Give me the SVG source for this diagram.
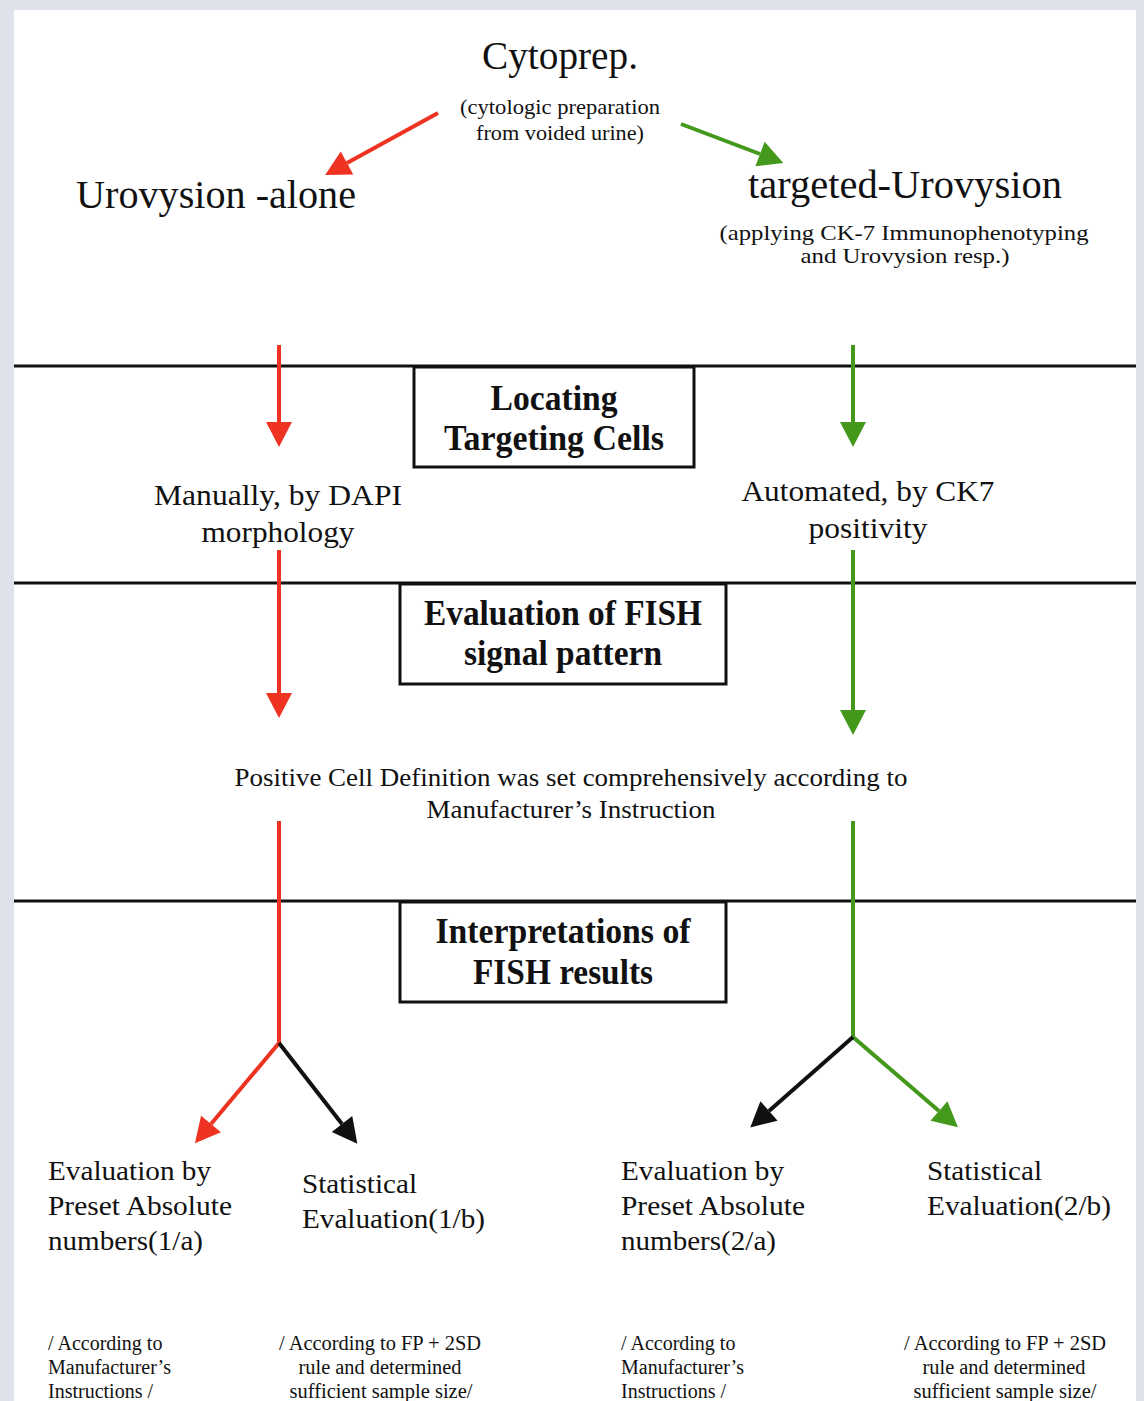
<svg xmlns="http://www.w3.org/2000/svg" width="1144" height="1401" viewBox="0 0 1144 1401">
<defs>
<style>
.t{font-family:"Liberation Serif","Times New Roman",serif;fill:#111}
.b{font-weight:bold}
.sep{stroke:#111;stroke-width:3}
.box{fill:#fff;stroke:#111;stroke-width:3}
.red{stroke:#ee3322;stroke-width:4;fill:none}
.grn{stroke:#44991c;stroke-width:4;fill:none}
.blk{stroke:#111;stroke-width:4;fill:none}
</style>
<marker id="ahR" markerUnits="userSpaceOnUse" markerWidth="26" markerHeight="26" refX="0" refY="13" orient="auto" overflow="visible"><path d="M0,0 L25,13 L0,26 z" fill="#ee3322"/></marker>
<marker id="ahG" markerUnits="userSpaceOnUse" markerWidth="26" markerHeight="26" refX="0" refY="13" orient="auto" overflow="visible"><path d="M0,0 L25,13 L0,26 z" fill="#44991c"/></marker>
<marker id="ahK" markerUnits="userSpaceOnUse" markerWidth="26" markerHeight="26" refX="0" refY="13" orient="auto" overflow="visible"><path d="M0,0 L25,13 L0,26 z" fill="#111"/></marker>
</defs>
<rect x="0" y="0" width="1144" height="1401" fill="#dfe2ea"/>
<rect x="14" y="10" width="1122" height="1391" fill="#fff"/>

<g id="separators">
<line class="sep" x1="14" y1="366" x2="1136" y2="366"/>
<line class="sep" x1="14" y1="583" x2="1136" y2="583"/>
<line class="sep" x1="14" y1="901" x2="1136" y2="901"/>
</g>

<g id="connectors">
<line class="red" x1="438" y1="113" x2="347" y2="163" marker-end="url(#ahR)"/>
<line class="grn" x1="681" y1="124" x2="760" y2="154" marker-end="url(#ahG)"/>
<line class="red" x1="279" y1="345" x2="279" y2="422" marker-end="url(#ahR)"/>
<line class="grn" x1="853" y1="345" x2="853" y2="422" marker-end="url(#ahG)"/>
<line class="red" x1="279" y1="550" x2="279" y2="693" marker-end="url(#ahR)"/>
<line class="grn" x1="853" y1="550" x2="853" y2="710" marker-end="url(#ahG)"/>
<path class="red" d="M279,821 L279,1043 L211,1124" marker-end="url(#ahR)"/>
<line class="blk" x1="279" y1="1043" x2="342" y2="1124" marker-end="url(#ahK)"/>
<path class="grn" d="M853,821 L853,1037 L939,1111" marker-end="url(#ahG)"/>
<line class="blk" x1="853" y1="1037" x2="769" y2="1111" marker-end="url(#ahK)"/>
</g>

<g id="cytoprep">
<text class="t" x="560" y="69" font-size="40" text-anchor="middle" textLength="156" lengthAdjust="spacingAndGlyphs">Cytoprep.</text>
<text class="t" x="560" y="114" font-size="22" text-anchor="middle" textLength="200" lengthAdjust="spacingAndGlyphs">(cytologic preparation</text>
<text class="t" x="560" y="140" font-size="22" text-anchor="middle" textLength="168" lengthAdjust="spacingAndGlyphs">from voided urine)</text>
</g>

<g id="urovysion-alone">
<text class="t" x="76" y="208" font-size="40" textLength="280" lengthAdjust="spacingAndGlyphs">Urovysion -alone</text>
</g>

<g id="targeted-urovysion">
<text class="t" x="748" y="198" font-size="40" textLength="314" lengthAdjust="spacingAndGlyphs">targeted-Urovysion</text>
<text class="t" x="904" y="240" font-size="22" text-anchor="middle" textLength="369" lengthAdjust="spacingAndGlyphs">(applying CK-7 Immunophenotyping</text>
<text class="t" x="905" y="263" font-size="22" text-anchor="middle" textLength="209" lengthAdjust="spacingAndGlyphs">and Urovysion resp.)</text>
</g>

<g id="locating-box">
<rect class="box" x="414" y="367" width="280" height="100"/>
<text class="t b" x="554" y="410" font-size="35" text-anchor="middle" textLength="127" lengthAdjust="spacingAndGlyphs">Locating</text>
<text class="t b" x="554" y="450" font-size="35" text-anchor="middle" textLength="220" lengthAdjust="spacingAndGlyphs">Targeting Cells</text>
</g>

<g id="manually">
<text class="t" x="278" y="505" font-size="29" text-anchor="middle" textLength="248" lengthAdjust="spacingAndGlyphs">Manually, by DAPI</text>
<text class="t" x="278" y="542" font-size="29" text-anchor="middle" textLength="153" lengthAdjust="spacingAndGlyphs">morphology</text>
</g>

<g id="automated">
<text class="t" x="868" y="501" font-size="29" text-anchor="middle" textLength="253" lengthAdjust="spacingAndGlyphs">Automated, by CK7</text>
<text class="t" x="868" y="538" font-size="29" text-anchor="middle" textLength="119" lengthAdjust="spacingAndGlyphs">positivity</text>
</g>

<g id="evaluation-box">
<rect class="box" x="400" y="584" width="326" height="100"/>
<text class="t b" x="563" y="625" font-size="35" text-anchor="middle" textLength="278" lengthAdjust="spacingAndGlyphs">Evaluation of FISH</text>
<text class="t b" x="563" y="665" font-size="35" text-anchor="middle" textLength="198" lengthAdjust="spacingAndGlyphs">signal pattern</text>
</g>

<g id="positive-cell">
<text class="t" x="571" y="786" font-size="25" text-anchor="middle" textLength="673" lengthAdjust="spacingAndGlyphs">Positive Cell Definition was set comprehensively according to</text>
<text class="t" x="571" y="818" font-size="25" text-anchor="middle" textLength="289" lengthAdjust="spacingAndGlyphs">Manufacturer’s Instruction</text>
</g>

<g id="interpretations-box">
<rect class="box" x="400" y="902" width="326" height="100"/>
<text class="t b" x="563" y="943" font-size="35" text-anchor="middle" textLength="255" lengthAdjust="spacingAndGlyphs">Interpretations of</text>
<text class="t b" x="563" y="984" font-size="35" text-anchor="middle" textLength="180" lengthAdjust="spacingAndGlyphs">FISH results</text>
</g>

<g id="eval-1a">
<text class="t" x="48" y="1180" font-size="28" textLength="163" lengthAdjust="spacingAndGlyphs">Evaluation by</text>
<text class="t" x="48" y="1215" font-size="28" textLength="184" lengthAdjust="spacingAndGlyphs">Preset Absolute</text>
<text class="t" x="48" y="1250" font-size="28" textLength="155" lengthAdjust="spacingAndGlyphs">numbers(1/a)</text>
</g>

<g id="stat-1b">
<text class="t" x="302" y="1193" font-size="28" textLength="115" lengthAdjust="spacingAndGlyphs">Statistical</text>
<text class="t" x="302" y="1228" font-size="28" textLength="183" lengthAdjust="spacingAndGlyphs">Evaluation(1/b)</text>
</g>

<g id="eval-2a">
<text class="t" x="621" y="1180" font-size="28" textLength="163" lengthAdjust="spacingAndGlyphs">Evaluation by</text>
<text class="t" x="621" y="1215" font-size="28" textLength="184" lengthAdjust="spacingAndGlyphs">Preset Absolute</text>
<text class="t" x="621" y="1250" font-size="28" textLength="155" lengthAdjust="spacingAndGlyphs">numbers(2/a)</text>
</g>

<g id="stat-2b">
<text class="t" x="927" y="1180" font-size="28" textLength="115" lengthAdjust="spacingAndGlyphs">Statistical</text>
<text class="t" x="927" y="1215" font-size="28" textLength="184" lengthAdjust="spacingAndGlyphs">Evaluation(2/b)</text>
</g>

<g id="note-1a">
<text class="t" x="48" y="1350" font-size="20">/ According to</text>
<text class="t" x="48" y="1374" font-size="20">Manufacturer’s</text>
<text class="t" x="48" y="1398" font-size="20">Instructions /</text>
</g>

<g id="note-1b">
<text class="t" x="380" y="1350" font-size="20" text-anchor="middle" textLength="202" lengthAdjust="spacingAndGlyphs">/ According to FP + 2SD</text>
<text class="t" x="380" y="1374" font-size="20" text-anchor="middle" textLength="163" lengthAdjust="spacingAndGlyphs">rule and determined</text>
<text class="t" x="381" y="1398" font-size="20" text-anchor="middle" textLength="183" lengthAdjust="spacingAndGlyphs">sufficient sample size/</text>
</g>

<g id="note-2a">
<text class="t" x="621" y="1350" font-size="20">/ According to</text>
<text class="t" x="621" y="1374" font-size="20">Manufacturer’s</text>
<text class="t" x="621" y="1398" font-size="20">Instructions /</text>
</g>

<g id="note-2b">
<text class="t" x="1005" y="1350" font-size="20" text-anchor="middle" textLength="202" lengthAdjust="spacingAndGlyphs">/ According to FP + 2SD</text>
<text class="t" x="1004" y="1374" font-size="20" text-anchor="middle" textLength="163" lengthAdjust="spacingAndGlyphs">rule and determined</text>
<text class="t" x="1005" y="1398" font-size="20" text-anchor="middle" textLength="183" lengthAdjust="spacingAndGlyphs">sufficient sample size/</text>
</g>
</svg>
